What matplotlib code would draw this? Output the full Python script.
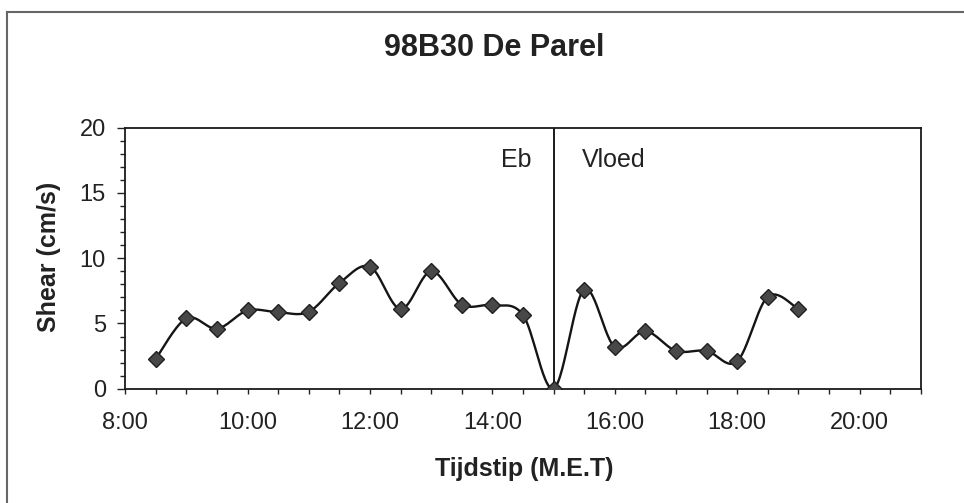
import numpy as np
import matplotlib
matplotlib.use("Agg")
import matplotlib.pyplot as plt
from matplotlib.lines import Line2D
from matplotlib.ticker import MultipleLocator, FixedLocator

plt.rcParams['font.family'] = ['Liberation Sans', 'DejaVu Sans']

# Data (time in hours)
times = [8.5, 9.0, 9.5, 10.0, 10.5, 11.0, 11.5, 12.0, 12.5, 13.0, 13.5,
         14.0, 14.5, 15.0, 15.5, 16.0, 16.5, 17.0, 17.5, 18.0, 18.5, 19.0]
shear = [2.3, 5.4, 4.6, 6.0, 5.85, 5.9, 8.1, 9.35, 6.1, 9.0, 6.45,
         6.4, 5.65, 0.0, 7.6, 3.2, 4.4, 2.9, 2.9, 2.1, 7.05, 6.1]
tick_hours = [8, 10, 12, 14, 16, 18, 20]
tick_labels = ["8:00", "10:00", "12:00", "14:00", "16:00", "18:00", "20:00"]
tide_change = 15.0
title = "98B30 De Parel"


def smooth(x, y, n=30):
    # Excel-style smoothed line (Catmull-Rom / Bezier with 1/6 tension)
    x = np.asarray(x, float); y = np.asarray(y, float)
    px = np.concatenate([[x[0]], x, [x[-1]]])
    py = np.concatenate([[y[0]], y, [y[-1]]])
    xs, ys = [], []
    t = np.linspace(0, 1, n)
    for i in range(1, len(px) - 2):
        p0 = np.array([px[i], py[i]])
        p3 = np.array([px[i + 1], py[i + 1]])
        c1 = p0 + (np.array([px[i + 1], py[i + 1]]) - np.array([px[i - 1], py[i - 1]])) / 6
        c2 = p3 - (np.array([px[i + 2], py[i + 2]]) - np.array([px[i], py[i]])) / 6
        b = ((1 - t) ** 3)[:, None] * p0 + (3 * (1 - t) ** 2 * t)[:, None] * c1 + \
            (3 * (1 - t) * t ** 2)[:, None] * c2 + (t ** 3)[:, None] * p3
        xs.append(b[:, 0]); ys.append(b[:, 1])
    return np.concatenate(xs), np.concatenate(ys)


W, H = 964, 503
fig = plt.figure(figsize=(W / 100, H / 100), dpi=100)
fig.patch.set_facecolor('white')
ax = fig.add_axes([125.3 / W, 1 - 388.7 / H, (920.7 - 125.3) / W, (388.7 - 127.7) / H])

sx, sy = smooth(times, shear)
ax.plot(sx, sy, color='#151515', lw=1.7, zorder=3)
ax.plot(times, shear, linestyle='none', marker='D', markersize=8.5,
        markerfacecolor='#484848', markeredgecolor='#202020', markeredgewidth=1.0, zorder=4)

ax.axvline(tide_change, color='#1a1a1a', lw=1.4, zorder=2)
ax.text(tide_change - 0.36, 17.5, "Eb", ha='right', va='center', fontsize=18, color='#222222')
ax.text(tide_change + 0.46, 17.5, "Vloed", ha='left', va='center', fontsize=18, color='#222222')

ax.set_xlim(8, 21)
ax.set_ylim(0, 20)
ax.xaxis.set_major_locator(FixedLocator(tick_hours))
ax.set_xticklabels(tick_labels)
ax.xaxis.set_minor_locator(MultipleLocator(0.5))
ax.yaxis.set_major_locator(MultipleLocator(5))
ax.yaxis.set_minor_locator(MultipleLocator(1))

ax.tick_params(axis='both', which='both', direction='out', color='#222222', width=1.0,
               labelsize=17, labelcolor='#222222')
ax.tick_params(axis='x', which='both', length=3.6, pad=13.5)
ax.tick_params(axis='y', which='major', length=5.8, pad=8.1)
ax.tick_params(axis='y', which='minor', length=3.6)

for s in ax.spines.values():
    s.set_color('#1a1a1a')
    s.set_linewidth(1.3)

fig.text(524 / W, 1 - 476 / H, "Tijdstip (M.E.T)", ha='center', va='baseline',
         fontsize=18, fontweight='bold', color='#222222')
fig.text(49 / W, 1 - 257 / H, "Shear (cm/s)", ha='center', va='center', rotation=90,
         fontsize=18, fontweight='bold', color='#222222')
fig.text(494 / W, 1 - 48.5 / H, title, ha='center', va='center', fontsize=22,
         fontweight='bold', color='#222222')

# partial outer frame (left and top)
fig.add_artist(Line2D([7 / W, 7 / W], [0, 1 - 12 / H], transform=fig.transFigure,
                      color='#666666', lw=1.5))
fig.add_artist(Line2D([7 / W, 1], [1 - 12 / H, 1 - 12 / H], transform=fig.transFigure,
                      color='#666666', lw=1.5))

fig.savefig("out.png", dpi=100, facecolor='white')
